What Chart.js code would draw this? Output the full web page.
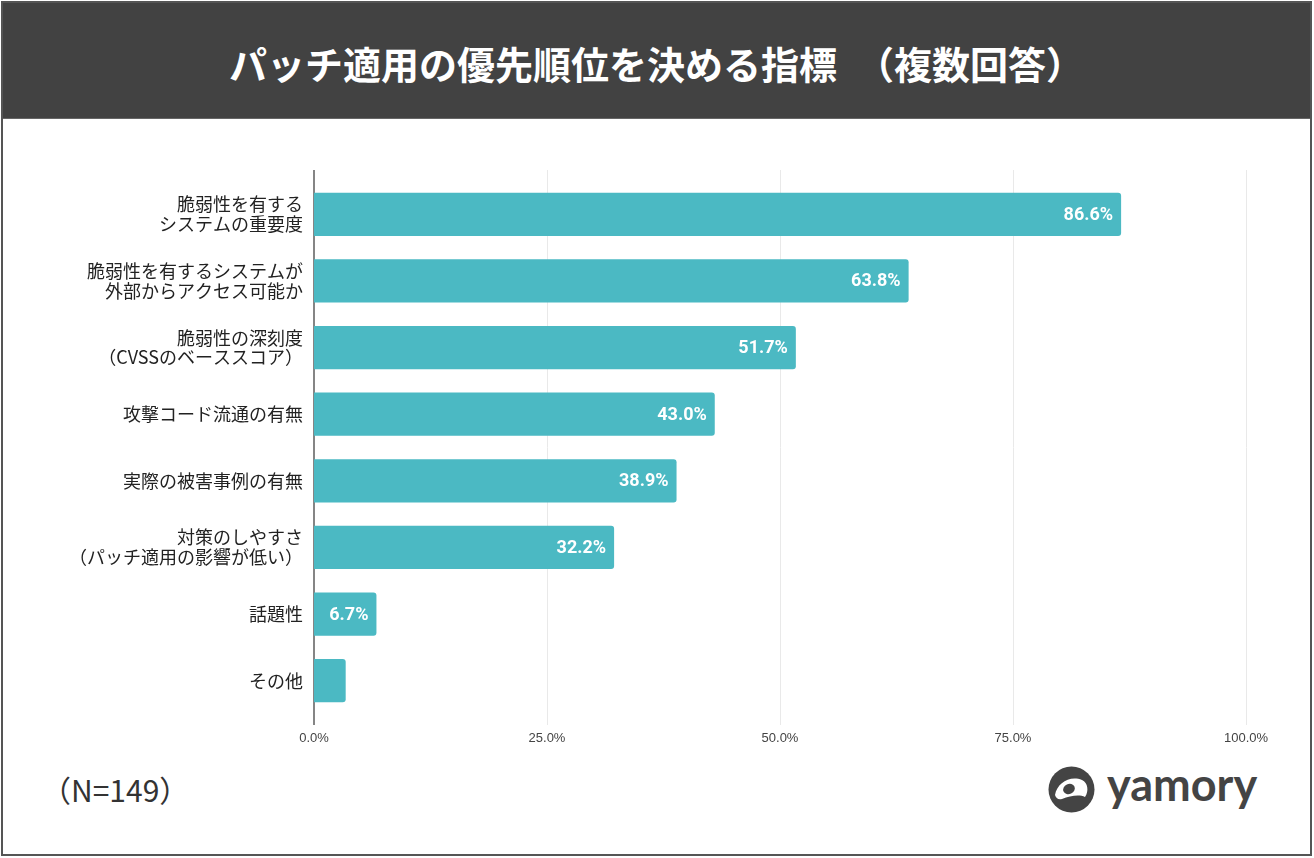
<!DOCTYPE html>
<html lang="ja">
<head>
<meta charset="utf-8">
<script src="https://cdn.jsdelivr.net/npm/chart.js@4.4.1/dist/chart.umd.min.js"></script>
<style>
  html, body { margin:0; padding:0; background:#fff; }
  body { width:1314px; height:858px; position:relative; overflow:hidden; font-family:"Noto Sans CJK JP","Noto Sans",sans-serif; }
  #frame { position:absolute; left:1px; top:1px; width:1311px; height:855px; box-sizing:border-box; border:2px solid #555; }
  #header { position:absolute; left:0; top:0; right:0; height:115px; background:#424242; border-bottom:1px solid #666;
            display:flex; align-items:center; justify-content:center; }
  #header h1 { margin:0; color:#fff; font-size:38px; font-weight:700; letter-spacing:0; transform:translate(0px,2px); white-space:nowrap; }
  #note { position:absolute; left:41px; top:767px; font-size:30px; color:#333; }
  #logo { position:absolute; left:1048px; top:766px; display:flex; align-items:center; }
  #logo span { font-family:Lato,"Open Sans",sans-serif; font-weight:700; font-size:45px; color:#444; margin-left:12px; line-height:1; margin-top:-10px; }
  canvas { position:absolute; left:0; top:0; }
</style>
</head>
<body>
<div id="frame"><div id="header"><h1>パッチ適用の優先順位を決める指標　（複数回答）</h1></div></div>
<div id="note">（N=149）</div>
<div id="logo">
  <svg width="47" height="47" viewBox="0 0 47 47">
    <circle cx="23.5" cy="23.5" r="23" fill="#444"/>
    <path d="M 7 29 C 9 17, 22 9, 34 14 C 40 17, 41 25, 37 31 C 31 28, 22 30, 14 33 C 10 34, 8 32, 7 29 Z" fill="#fff"/>
    <ellipse cx="21" cy="23" rx="6" ry="5" fill="#444" transform="rotate(-25 21 23)"/>
  </svg>
  <span>yamory</span>
</div>
<canvas id="c" width="1314" height="858"></canvas>
<script>
const categories = [
  ["脆弱性を有する","システムの重要度"],
  ["脆弱性を有するシステムが","外部からアクセス可能か"],
  ["脆弱性の深刻度","（CVSSのベーススコア）"],
  "攻撃コード流通の有無",
  "実際の被害事例の有無",
  ["対策のしやすさ","（パッチ適用の影響が低い）"],
  "話題性",
  "その他"
];
const values = [86.6, 63.8, 51.7, 43.0, 38.9, 32.2, 6.7, 3.4];
const xTicks = [0, 25, 50, 75, 100];
const labelMin = 5;

const gridPlugin = {
  id: 'extGrid',
  beforeDatasetsDraw(chart) {
    const {ctx, chartArea, scales:{x}} = chart;
    ctx.save();
    ctx.lineWidth = 1;
    ctx.strokeStyle = '#e9e9e9';
    xTicks.forEach(v => {
      if (v === 0) return;
      const px = Math.round(x.getPixelForValue(v)) + 0.5;
      ctx.beginPath(); ctx.moveTo(px, chartArea.top - 11); ctx.lineTo(px, chartArea.bottom + 11); ctx.stroke();
    });
    ctx.strokeStyle = '#858585';
    ctx.lineWidth = 2;
    const p0 = x.getPixelForValue(0);
    ctx.beginPath(); ctx.moveTo(p0, chartArea.top - 11); ctx.lineTo(p0, chartArea.bottom + 11); ctx.stroke();
    ctx.restore();
  }
};
const valuePlugin = {
  id: 'valueLabels',
  afterDatasetsDraw(chart) {
    const {ctx} = chart;
    const meta = chart.getDatasetMeta(0);
    ctx.save();
    ctx.font = 'bold 18px Roboto, "Liberation Sans", sans-serif';
    ctx.fillStyle = '#ffffff';
    ctx.textAlign = 'right';
    ctx.textBaseline = 'middle';
    meta.data.forEach((bar, i) => {
      const v = values[i];
      if (v < labelMin) return;
      ctx.fillText(v.toFixed(1) + '%', bar.x - 8, bar.y + 1);
    });
    ctx.restore();
  }
};

new Chart(document.getElementById('c'), {
  type: 'bar',
  data: {
    labels: categories,
    datasets: [{
      data: values,
      backgroundColor: '#4bb9c3',
      borderRadius: 3,
      borderSkipped: 'start',
      categoryPercentage: 1.0,
      barPercentage: 0.65
    }]
  },
  options: {
    indexAxis: 'y',
    responsive: false,
    animation: false,
    layout: { padding: { top: 181, left: 0, right: 68, bottom: 104 } },
    plugins: { legend: { display: false }, tooltip: { enabled: false }, title: { display: false } },
    scales: {
      x: {
        min: 0, max: 100,
        afterBuildTicks(scale) { scale.ticks = xTicks.map(v => ({ value: v })); },
        afterFit(scale) { scale.height = 40; },
        grid: { display: false, drawTicks: false },
        border: { display: false },
        ticks: {
          padding: 17,
          color: '#444',
          font: { family: '"Liberation Sans", Arial, sans-serif', size: 13 },
          callback: v => Number(v).toFixed(1) + '%'
        }
      },
      y: {
        afterFit(scale) { scale.width = 314; },
        grid: { display: false, drawTicks: false },
        border: { display: false },
        ticks: {
          padding: 11,
          color: '#222',
          font: { family: '"Noto Sans CJK JP", sans-serif', size: 18, lineHeight: 1.1 }
        }
      }
    }
  },
  plugins: [gridPlugin, valuePlugin]
});
</script>
</body>
</html>
